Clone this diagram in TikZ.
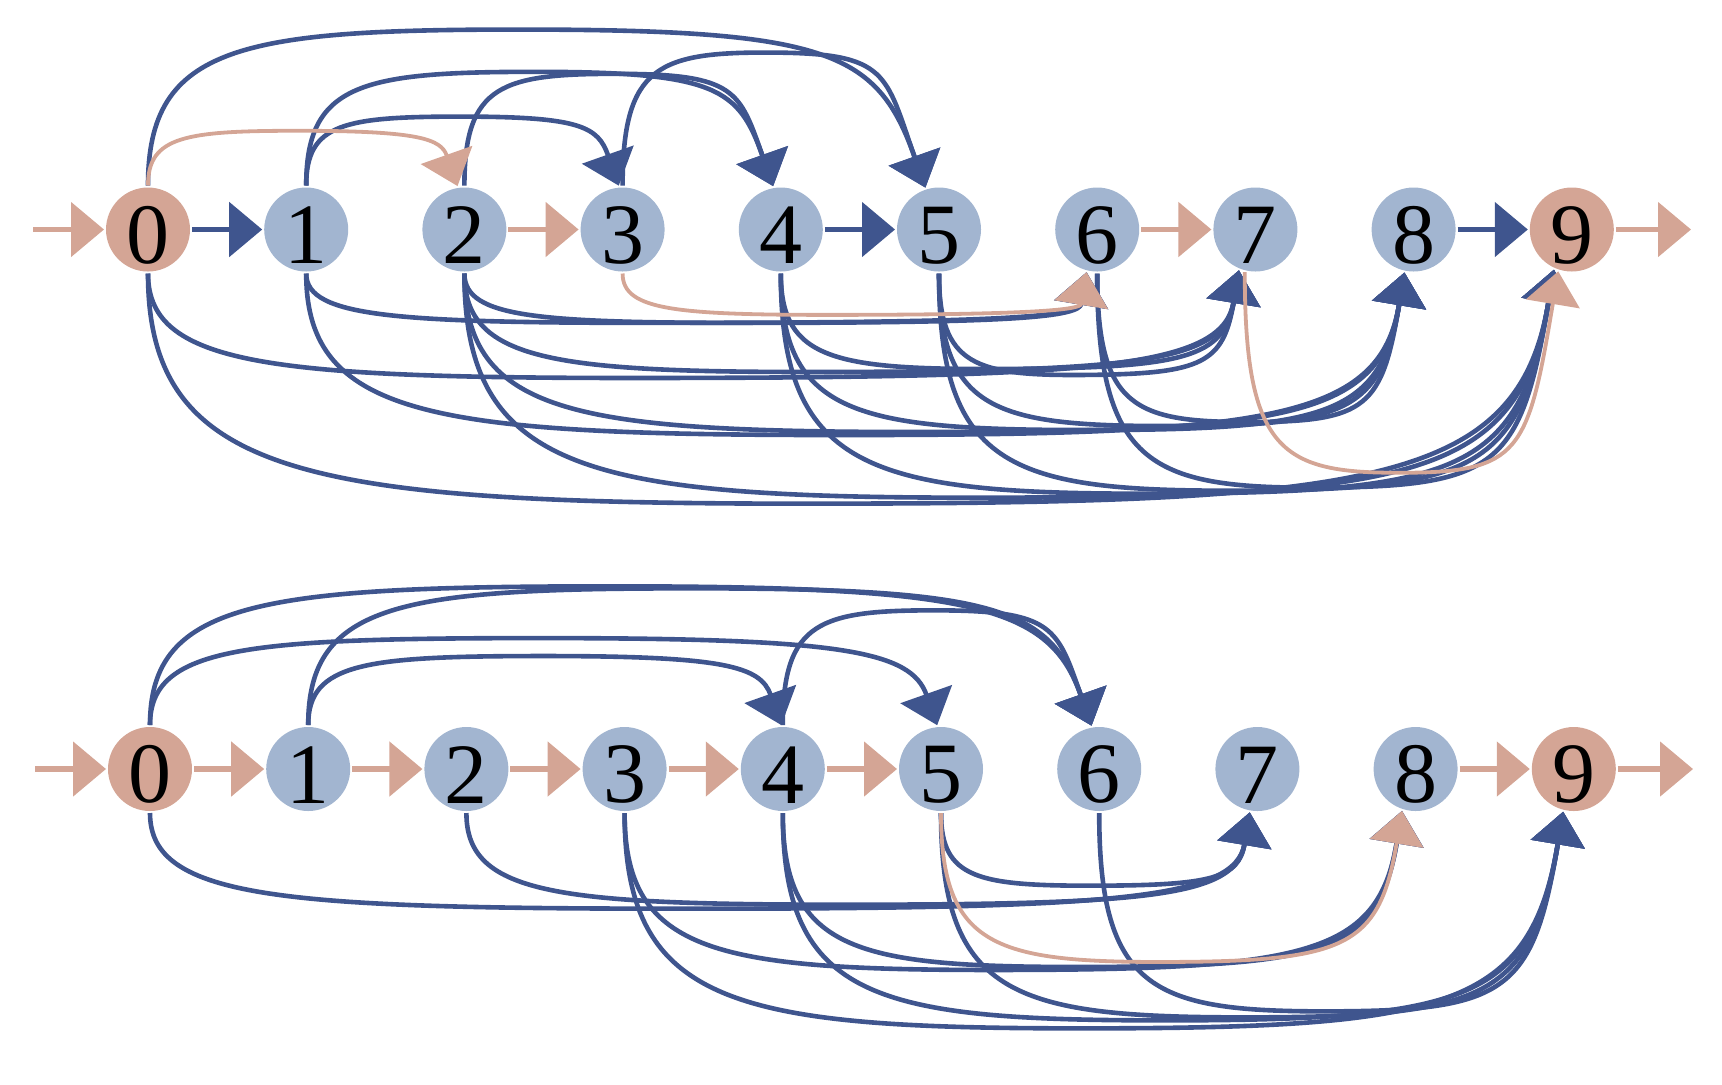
\documentclass[tikz,border=0pt]{standalone}
\usepackage{fontspec}
\setmainfont{Liberation Serif}
\usetikzlibrary{arrows.meta,calc}
\definecolor{salmon}{RGB}{212,165,149}
\definecolor{nodeblue}{RGB}{162,181,208}
\definecolor{edgeblue}{RGB}{63,85,142}
\begin{document}
\begin{tikzpicture}[x=0.5pt,y=-0.5pt,line width=2pt,
  every node/.style={circle,fill=nodeblue,minimum size=42pt,inner sep=0pt,font=\fontsize{43}{43}\selectfont,text height=34pt},
  io/.style={fill=salmon},
  arw/.style={-{Triangle[length=16.5pt,width=27pt]}},
  bs/.style={arw,draw=edgeblue,line width=2.6pt},
  ss/.style={arw,draw=salmon,line width=2.6pt},
  be/.style={arw,draw=edgeblue,line width=2.3pt},
  se/.style={arw,draw=salmon,line width=1.9pt},
  arcup/.style={to path={.. controls ($(\tikztostart)+(0,-0.9*#1)$) and ($(\tikztostart)!.12!(\tikztotarget)+(0,-#1)$) .. ($(\tikztostart)!.5!(\tikztotarget)+(0,-#1)$) .. controls ($(\tikztostart)!.88!(\tikztotarget)+(0,-#1)$) and ($(\tikztotarget)+(-0.3*#1,-0.85*#1)$) .. (\tikztotarget)}},
  arcdn/.style={to path={.. controls ($(\tikztostart)+(0,0.9*#1)$) and ($(\tikztostart)!.12!(\tikztotarget)+(0,#1)$) .. ($(\tikztostart)!.5!(\tikztotarget)+(0,#1)$) .. controls ($(\tikztostart)!.88!(\tikztotarget)+(0,#1)$) and ($(\tikztotarget)+(-0.15*#1,0.9*#1)$) .. (\tikztotarget)}}]
\useasboundingbox (0,0) rectangle (1722,1084);
\coordinate (tin) at (33,229.5);
\coordinate (tout) at (1691,229.5);
\coordinate (bin) at (35,769);
\coordinate (bout) at (1693,769);
\node[io] (t0) at (148,229.5) {0};
\node (t1) at (306.2,229.5) {1};
\node (t2) at (464.4,229.5) {2};
\node (t3) at (622.6,229.5) {3};
\node (t4) at (780.8,229.5) {4};
\node (t5) at (939,229.5) {5};
\node (t6) at (1097.2,229.5) {6};
\node (t7) at (1255.4,229.5) {7};
\node (t8) at (1413.6,229.5) {8};
\node[io] (t9) at (1571.8,229.5) {9};
\node[io] (b0) at (150,769) {0};
\node (b1) at (308.2,769) {1};
\node (b2) at (466.4,769) {2};
\node (b3) at (624.6,769) {3};
\node (b4) at (782.8,769) {4};
\node (b5) at (941,769) {5};
\node (b6) at (1099.2,769) {6};
\node (b7) at (1257.4,769) {7};
\node (b8) at (1415.6,769) {8};
\node[io] (b9) at (1573.8,769) {9};
\draw[ss] (tin) -- (t0);
\draw[bs] (t0) -- (t1);
\draw[ss] (t2) -- (t3);
\draw[bs] (t4) -- (t5);
\draw[ss] (t6) -- (t7);
\draw[bs] (t8) -- (t9);
\draw[ss] (t9) -- (tout);
\draw[be] (t1.north) to[arcup=69] (t3.95);
\draw[be] (t1.north) to[arcup=114] (t4.100);
\draw[be] (t2.north) to[arcup=112] (t4.100);
\draw[be] (t3.north) to[arcup=134] (t5.108);
\draw[be] (t0.north) to[arcup=157] (t5.108);
\draw[se] (t0.north) to[arcup=55] (t2.99);
\draw[be] (t1.south) to[arcdn=50] (t6.-104);
\draw[be] (t2.south) to[arcdn=50] (t6.-104);
\draw[be] (t0.south) to[arcdn=106] (t7.-112);
\draw[be] (t2.south) to[arcdn=100] (t7.-112);
\draw[be] (t4.south) to[arcdn=97] (t7.-112);
\draw[be] (t5.south) to[arcdn=103] (t7.-112);
\draw[be] (t1.south) to[arcdn=162] (t8.-102);
\draw[be] (t2.south) to[arcdn=159] (t8.-102);
\draw[be] (t4.south) to[arcdn=157] (t8.-102);
\draw[be] (t5.south) to[arcdn=153] (t8.-102);
\draw[be] (t6.south) to[arcdn=149] (t8.-102);
\draw[be] (t0.south) to[arcdn=232] (t9.-114);
\draw[be] (t2.south) to[arcdn=226] (t9.-114);
\draw[be] (t4.south) to[arcdn=222] (t9.-114);
\draw[be] (t5.south) to[arcdn=219] (t9.-114);
\draw[be] (t6.south) to[arcdn=216] (t9.-114);
\draw[se] (t3.south) to[arcdn=42] (t6.-104);
\draw[se] (t7.-104) to[arcdn=201] (t9.-108);
\draw[ss] (bin) -- (b0);
\draw[ss] (b0) -- (b1);
\draw[ss] (b1) -- (b2);
\draw[ss] (b2) -- (b3);
\draw[ss] (b3) -- (b4);
\draw[ss] (b4) -- (b5);
\draw[ss] (b8) -- (b9);
\draw[ss] (b9) -- (bout);
\draw[be] (b1.north) to[arcup=69] (b4.92);
\draw[be] (b0.north) to[arcup=87] (b5.95);
\draw[be] (b4.north) to[arcup=115] (b6.100);
\draw[be] (b1.north) to[arcup=137] (b6.100);
\draw[be] (b0.north) to[arcup=139] (b6.100);
\draw[be] (b5.south) to[arcdn=73] (b7.-100);
\draw[be] (b2.south) to[arcdn=92] (b7.-100);
\draw[be] (b0.south) to[arcdn=96] (b7.-100);
\draw[be] (b4.south) to[arcdn=155] (b8.-108);
\draw[be] (b3.south) to[arcdn=158] (b8.-108);
\draw[be] (b6.south) to[arcdn=199] (b9.-104);
\draw[be] (b5.south) to[arcdn=205] (b9.-104);
\draw[be] (b4.south) to[arcdn=208] (b9.-104);
\draw[be] (b3.south) to[arcdn=216] (b9.-104);
\draw[se] (b5.south) to[arcdn=150] (b8.-108);
\end{tikzpicture}
\end{document}
